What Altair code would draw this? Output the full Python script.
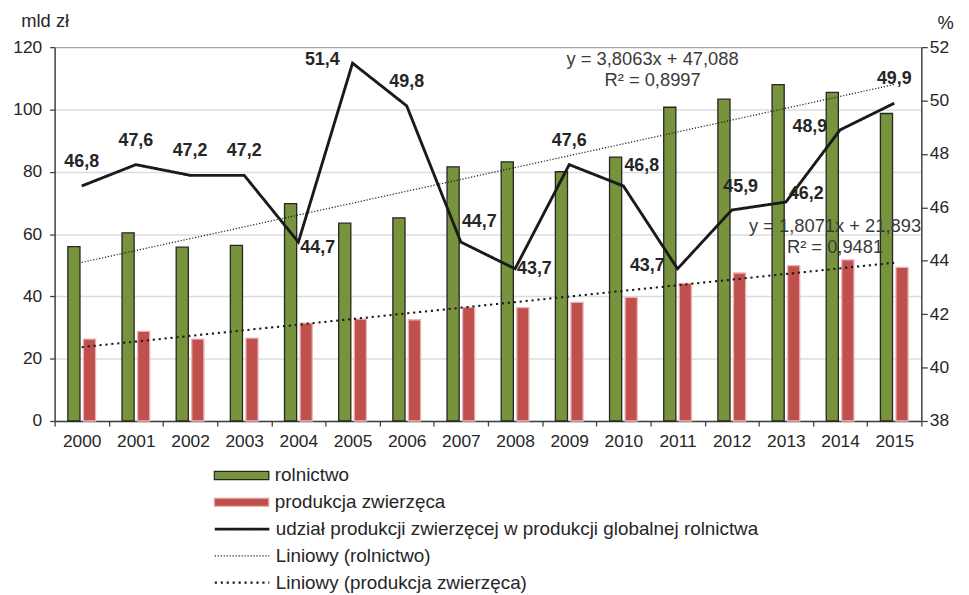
import altair as alt
import pandas as pd

# ---------------- data ----------------
years = [str(y) for y in range(2000, 2016)]
rolnictwo = [56.0, 60.4, 55.8, 56.4, 69.8, 63.5, 65.2, 81.6, 83.2, 80.0, 84.7, 100.7, 103.3, 108.0, 105.5, 98.7]
produkcja = [26.3, 28.8, 26.3, 26.6, 31.4, 32.7, 32.5, 36.5, 36.4, 38.1, 39.7, 44.2, 47.5, 49.9, 51.7, 49.3]
udzial = [46.8, 47.6, 47.2, 47.2, 44.7, 51.4, 49.8, 44.7, 43.7, 47.6, 46.8, 43.7, 45.9, 46.2, 48.9, 49.9]
trend_years = ["2000", "2015"]
trend_rolnictwo = [50.9, 108.0]
trend_produkcja = [23.7, 50.8]

S_ROL = "rolnictwo"
S_PROD = "produkcja zwierzęca"
L_UDZ = "udział produkcji zwierzęcej w produkcji globalnej rolnictwa"
L_TR = "Liniowy (rolnictwo)"
L_TP = "Liniowy (produkcja zwierzęca)"
eq_rol = ["y = 3,8063x + 47,088", "R² = 0,8997"]
eq_prod = ["y = 1,8071x + 21,893", "R² = 0,9481"]

FONT = "Liberation Sans"
TXT = "#262626"
AX = "#404040"

bars_df = pd.DataFrame({
    "rok": years * 2,
    "seria": [S_ROL] * len(years) + [S_PROD] * len(years),
    "wartosc": rolnictwo + produkcja,
})
trend_df = pd.DataFrame({
    "rok": trend_years * 2,
    "linia": [L_TR] * 2 + [L_TP] * 2,
    "wartosc": trend_rolnictwo + trend_produkcja,
})
share_df = pd.DataFrame({"rok": years, "linia": [L_UDZ] * len(years), "udzial": udzial})
share_df["etykieta"] = [f"{v:.1f}".replace(".", ",") for v in udzial]

# ---------------- scales / axes ----------------
x_enc = alt.X(
    "rok:N", sort=years,
    scale=alt.Scale(domain=years, paddingInner=0, paddingOuter=0),
    axis=alt.Axis(title=None, labelAngle=0, tickBand="extent", tickSize=5, tickWidth=1.3,
                  tickColor=AX, domainColor=AX, domainWidth=1.5, labelPadding=7,
                  labelFontSize=17.5, labelColor=TXT, grid=False),
)

left_axis = alt.Axis(
    values=list(range(0, 121, 20)), tickSize=5, tickWidth=1.3, tickColor=AX,
    domainColor=AX, domainWidth=1.5, labelPadding=8, labelFontSize=17.5, labelColor=TXT,
    grid=True, gridWidth=1.5,
    gridColor={"condition": {"test": "datum.value === 120", "value": "#a6a6a6"}, "value": "#dcdcdc"},
    title="mld zł", titleAngle=0, titleX=-10, titleY=-27, titleAlign="center",
    titleBaseline="middle", titleFontSize=18.5, titleFontWeight="normal", titleColor=TXT,
)
right_axis = alt.Axis(
    orient="right", values=list(range(38, 53, 2)), tickSize=6, tickWidth=1.3, tickColor=AX,
    domainColor=AX, domainWidth=1.5, labelPadding=2, labelFontSize=17.5, labelColor=TXT,
    grid=False, title="%", titleAngle=0, titleX=24, titleY=-25, titleAlign="center",
    titleBaseline="middle", titleFontSize=18.5, titleFontWeight="normal", titleColor=TXT,
)

LEG_FONT = 19
bar_legend = alt.Legend(
    title=None, orient="none", legendX=160, legendY=422, direction="vertical",
    symbolType="M-1,-0.15H1V0.15H-1Z", symbolSize=3025, clipHeight=20, rowPadding=7,
    labelFontSize=LEG_FONT, labelColor=TXT, labelOffset=5, labelLimit=0, padding=0,
    symbolStrokeWidth=1.3,
)

# line series; scale domain ordered thin -> thick so that the width scale maps monotonically
line_order = [L_TR, L_TP, L_UDZ]
legend_order = [L_UDZ, L_TR, L_TP]
line_legend = alt.Legend(
    title=None, orient="none", legendX=160, legendY=476, direction="vertical",
    values=legend_order,
    symbolType="stroke", symbolSize=3025, symbolStrokeColor="#1a1a1a", clipHeight=20,
    rowPadding=7, labelFontSize=LEG_FONT, labelColor=TXT, labelOffset=5, labelLimit=0, padding=0,
)
dash_enc = alt.StrokeDash("linia:N", sort=line_order,
                          scale=alt.Scale(domain=line_order, range=[[1.2, 1.8], [2.2, 3.8], [1, 0]]),
                          legend=line_legend)
width_enc = alt.StrokeWidth("linia:N", sort=line_order,
                            scale=alt.Scale(domain=line_order, range=[1.2, 2.9]),
                            legend=line_legend)

# ---------------- layers ----------------
bars = alt.Chart(bars_df).mark_bar(strokeWidth=1.3).encode(
    x=x_enc,
    xOffset=alt.XOffset("seria:N", sort=[S_ROL, S_PROD],
                        scale=alt.Scale(domain=[S_ROL, S_PROD], paddingInner=0.22, paddingOuter=0.85)),
    y=alt.Y("wartosc:Q", scale=alt.Scale(domain=[0, 120], nice=False), axis=left_axis),
    fill=alt.Fill("seria:N", sort=[S_ROL, S_PROD],
                  scale=alt.Scale(domain=[S_ROL, S_PROD], range=["#77933C", "#C0504D"]),
                  legend=bar_legend),
    stroke=alt.Stroke("seria:N", sort=[S_ROL, S_PROD],
                      scale=alt.Scale(domain=[S_ROL, S_PROD], range=["#262626", "#E8B4B3"]),
                      legend=bar_legend),
)

trends = alt.Chart(trend_df).mark_line(color="#1a1a1a").encode(
    x=x_enc,
    y=alt.Y("wartosc:Q", scale=alt.Scale(domain=[0, 120], nice=False), axis=left_axis),
    detail="linia:N",
    strokeDash=dash_enc,
    strokeWidth=width_enc,
)

eq_layers = []
eq_pos = [(603, 12), (603, 33), (787, 180), (787, 202)]
for txt, (px, py) in zip(eq_rol + eq_prod, eq_pos):
    eq_layers.append(
        alt.Chart(pd.DataFrame({"t": [txt]})).mark_text(
            fontSize=18.5, color="#3a3a3a", align="center", baseline="middle"
        ).encode(text="t:N", x=alt.value(px), y=alt.value(py))
    )

left_group = alt.layer(bars, trends, *eq_layers)

y_share = alt.Y("udzial:Q", scale=alt.Scale(domain=[38, 52], nice=False), axis=right_axis)

share_line = alt.Chart(share_df).mark_line(color="#1a1a1a", strokeJoin="miter").encode(
    x=x_enc, y=y_share, strokeDash=dash_enc, strokeWidth=width_enc,
)

# label placement groups (years, align, dx, dy)
placement = [
    (["2000", "2001", "2002", "2003", "2006", "2009", "2015"], "center", 0, -24),
    (["2012"], "center", 9, -23),
    (["2007", "2010"], "left", 1, -20),
    (["2004"], "left", 2, 6),
    (["2008"], "left", 2, 0),
    (["2013"], "left", 3, -8),
    (["2005", "2011", "2014"], "right", -13, -3),
]
label_layers = []
for yrs, al, dx, dy in placement:
    label_layers.append(
        alt.Chart(share_df).transform_filter(
            alt.FieldOneOfPredicate(field="rok", oneOf=yrs)
        ).mark_text(fontSize=18, fontWeight="bold", color=TXT, align=al, baseline="middle",
                    dx=dx, dy=dy).encode(x=x_enc, y=y_share, text="etykieta:N")
    )

right_group = alt.layer(share_line, *label_layers)

chart = alt.layer(left_group, right_group).resolve_scale(y="independent").properties(
    width=874, height=377,
    padding={"left": 47, "top": 37, "right": 40, "bottom": 173},
    autosize=alt.AutoSizeParams(type="none"),
).configure(font=FONT).configure_view(stroke=None)

chart.save("out.html", embed_options={"renderer": "svg", "actions": False})
